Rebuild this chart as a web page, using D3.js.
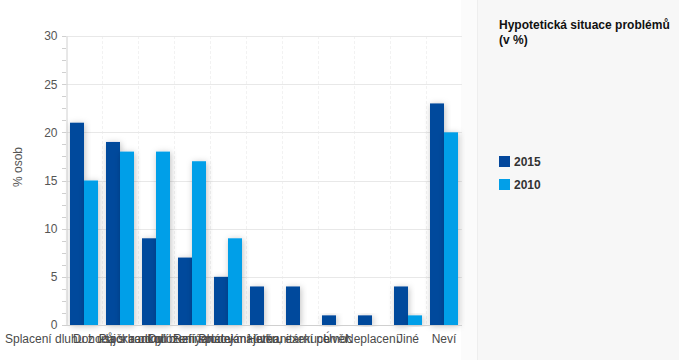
<!DOCTYPE html>
<html><head><meta charset="utf-8">
<script src="https://cdn.jsdelivr.net/npm/d3@7/dist/d3.min.js"></script>
<style>html,body{margin:0;padding:0;background:#fff;}svg{display:block;font-family:"Liberation Sans",Arial,sans-serif;}</style>
</head><body><div id="c"></div>
<script>
const categories = ["Splacení dluhu z úspor rodiny","Dohoda s bankou","Půjčka od příbuzných","Odložení splátek","Refinancování úvěru","Prodej majetku, exekuce","Humanitární pomoc","Úvěr","Neplacení","Jiné","Neví"];
const seriesNames = ["2015","2010"];
const values2015 = [21,19,9,7,5,4,4,1,1,4,23];
const values2010 = [15,18,18,17,9,0,0,0,0,1,20];
const yTicks = [0,5,10,15,20,25,30];
const colors = ["#04489c","#029fe8"];
const title = ["Hypotetická situace problémů","(v %)"];
const yTitle = "% osob";

const W=679,H=360;
const svg=d3.select("#c").append("svg").attr("width",W).attr("height",H);
const defs=svg.append("defs");
const f=defs.append("filter").attr("id","sh").attr("x","-50%").attr("y","-20%").attr("width","200%").attr("height","140%");
f.append("feDropShadow").attr("dx",1).attr("dy",1).attr("stdDeviation",3).attr("flood-color","#000").attr("flood-opacity",0.25);

svg.append("rect").attr("width",W).attr("height",H).attr("fill","#fff");
svg.append("rect").attr("x",461).attr("y",0).attr("width",17).attr("height",H).attr("fill","#fbfbfb");
svg.append("rect").attr("x",478).attr("y",0).attr("width",W-478).attr("height",H).attr("fill","#f7f7f7");
svg.append("line").attr("x1",477.5).attr("x2",477.5).attr("y1",0).attr("y2",H).attr("stroke","#eeeeee");

const y=d3.scaleLinear().domain([0,30]).range([325,36]);
const x0=d3.scaleBand().domain(categories).range([66,462]).paddingInner(0.2222).paddingOuter(0.1111);
const x1=d3.scaleBand().domain(seriesNames).range([0,x0.bandwidth()]);

const g=svg.append("g");
categories.forEach((c,i)=>{
  if(i===0) return;
  const xv=Math.round(x0(c)-x0.step()*0.1111)+0.5;
  g.append("line").attr("x1",xv).attr("x2",xv).attr("y1",36).attr("y2",325).attr("stroke","#f2f2f2").attr("stroke-dasharray","3,2");
});
g.selectAll(".hg").data(yTicks.filter(d=>d>0)).join("line")
 .attr("x1",66).attr("x2",462).attr("y1",d=>Math.round(y(d))+0.5).attr("y2",d=>Math.round(y(d))+0.5)
 .attr("stroke","#e8e8e8");

const yAxis=d3.axisLeft(y).tickValues(yTicks).tickSize(0).tickPadding(9);
const ya=svg.append("g").attr("transform","translate(66.5,0)").call(yAxis);
ya.select(".domain").attr("stroke","#d0d0d0");
ya.selectAll("text").attr("fill","#555").style("font-size","12px").attr("font-family","Liberation Sans, Arial, sans-serif");
const minor=d3.range(0,30.01,1.25);
svg.append("g").selectAll("line").data(minor).join("line")
 .attr("x1",62).attr("x2",66).attr("y1",d=>Math.round(y(d))+0.5).attr("y2",d=>Math.round(y(d))+0.5).attr("stroke","#d0d0d0");

svg.append("text").attr("transform","translate(22,167) rotate(-90)").attr("text-anchor","middle")
 .attr("fill","#555").style("font-size","12px").text(yTitle);

const data=categories.map((c,i)=>({c,v:[values2015[i],values2010[i]]}));
const bars=svg.append("g");
data.forEach(d=>{
  seriesNames.forEach((s,j)=>{
    if(d.v[j]<=0) return;
    bars.append("rect").attr("x",x0(d.c)+x1(s)).attr("width",x1.bandwidth())
      .attr("y",y(d.v[j])).attr("height",y(0)-y(d.v[j])).attr("fill",colors[j]).attr("filter","url(#sh)");
  });
});

svg.append("line").attr("x1",66).attr("x2",462).attr("y1",325.5).attr("y2",325.5).attr("stroke","#d0d0d0");
const xAxis=d3.axisBottom(x0).tickSize(0).tickPadding(9);
const xa=svg.append("g").attr("transform","translate(0,325)").call(xAxis);
xa.select(".domain").remove();
xa.selectAll("text").attr("fill","#4a4a4a").style("font-size","12px").attr("font-family","Liberation Sans, Arial, sans-serif");

const lg=svg.append("g");
lg.selectAll("text.t").data(title).join("text").attr("x",499).attr("y",(d,i)=>29+i*15)
 .attr("fill","#111").style("font-size","12px").style("font-weight","bold").text(d=>d);
seriesNames.forEach((s,i)=>{
  lg.append("rect").attr("x",499).attr("y",156+i*23).attr("width",11).attr("height",11).attr("fill",colors[i]);
  lg.append("text").attr("x",514).attr("y",166+i*23).attr("fill","#333").style("font-size","12px").style("font-weight","bold").text(s);
});
</script></body></html>
